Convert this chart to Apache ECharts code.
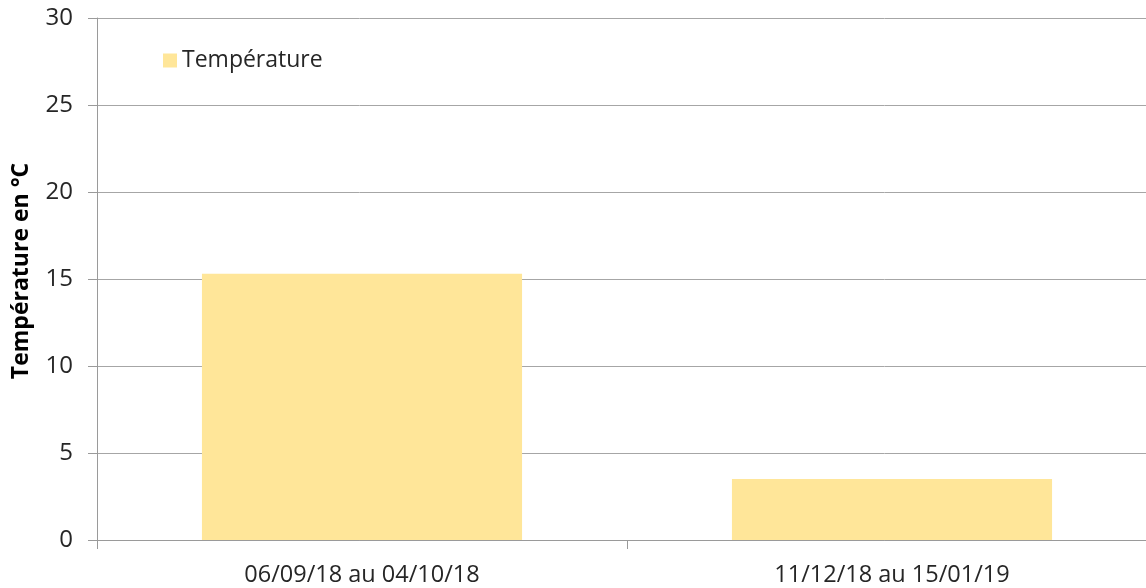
<!DOCTYPE html>
<html>
<head>
<meta charset="utf-8">
<script src="https://cdn.jsdelivr.net/npm/echarts@6/dist/echarts.min.js"></script>
<style>
html,body{margin:0;padding:0;background:#fff;}
#chart{width:1146px;height:588px;}
</style>
</head>
<body>
<div id="chart"></div>
<script>
const categories = ['06/09/18 au 04/10/18', '11/12/18 au 15/01/19'];
const seriesName = 'Température';
const temperatures = [15.3, 3.5];
const yTicks = [0, 5, 10, 15, 20, 25, 30];

const FONT = '"Open Sans", sans-serif';
const chart = echarts.init(document.getElementById('chart'), null, {renderer: 'canvas'});
chart.setOption({
  animation: false,
  backgroundColor: '#ffffff',
  legend: {
    show: true,
    left: 158,
    top: 44,
    itemWidth: 14,
    itemHeight: 14,
    itemGap: 8,
    icon: 'rect',
    textStyle: {fontFamily: FONT, fontSize: 23, color: '#262626'},
    data: [seriesName]
  },
  grid: {left: 97, right: -11, top: 18, bottom: 48, containLabel: false, outerBoundsMode: 'none'},
  xAxis: {
    type: 'category',
    data: categories,
    axisLine: {show: true, lineStyle: {color: '#9a9a9a', width: 1}},
    axisTick: {show: true, length: 9, alignWithLabel: false, lineStyle: {color: '#9a9a9a'}},
    axisLabel: {fontFamily: FONT, fontSize: 23.5, color: '#262626', margin: 23, interval: 0}
  },
  yAxis: {
    type: 'value',
    min: yTicks[0],
    max: yTicks[yTicks.length - 1],
    interval: 5,
    name: 'Température en °C',
    nameLocation: 'middle',
    nameRotate: 90,
    nameGap: 64,
    nameTextStyle: {fontFamily: FONT, fontSize: 23, fontWeight: 'bold', color: '#000', padding: [0, 0, 0, 16]},
    axisLine: {show: true, lineStyle: {color: '#9a9a9a', width: 1}},
    axisTick: {show: true, length: 9, lineStyle: {color: '#9a9a9a'}},
    axisLabel: {fontFamily: FONT, fontSize: 24, color: '#262626', margin: 24},
    splitLine: {show: true, lineStyle: {color: '#a6a6a6', width: 1}}
  },
  series: [{
    name: seriesName,
    type: 'bar',
    data: temperatures,
    barWidth: '60.4%',
    itemStyle: {color: '#FFE699'}
  }]
});
</script>
</body>
</html>
